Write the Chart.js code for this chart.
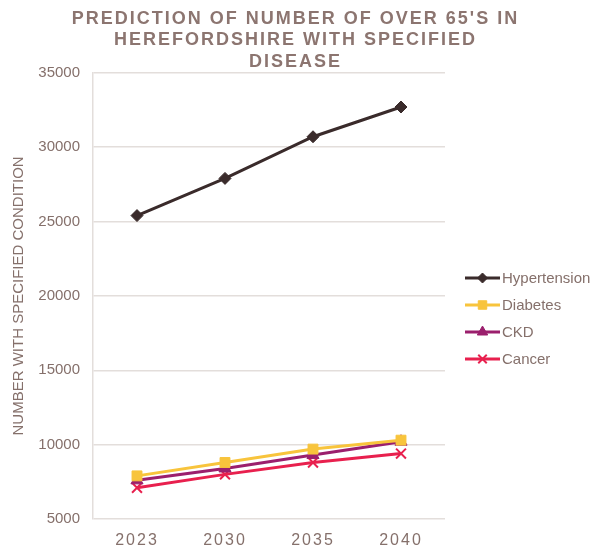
<!DOCTYPE html>
<html>
<head>
<meta charset="utf-8">
<script src="https://cdn.jsdelivr.net/npm/chart.js@4.4.1/dist/chart.umd.min.js"></script>
<style>
  html, body { margin: 0; padding: 0; background: #fff; }
  #wrap { width: 591px; height: 548px; }
</style>
</head>
<body>
<div id="wrap"><canvas id="chart" width="591" height="548"></canvas></div>
<script>
// data
var years = ['2023', '2030', '2035', '2040'];
var hypertension = [25400, 27900, 30700, 32700];
var diabetes = [7900, 8800, 9700, 10300];
var ckd = [7600, 8400, 9300, 10200];
var cancer = [7100, 8000, 8800, 9400];
var yTicks = [5000, 10000, 15000, 20000, 25000, 30000, 35000];

var textColor = '#85706b';
var titleColor = '#8c7570';
var gridColor = '#e3dedb';
var fontFamily = '"Liberation Sans", Arial, sans-serif';

function series(label, values, color, style, radius, bw) {
  return {
    label: label,
    data: values,
    borderColor: color,
    backgroundColor: color,
    pointBackgroundColor: color,
    pointBorderColor: color,
    borderWidth: 3,
    pointStyle: style,
    pointRadius: radius,
    pointHoverRadius: radius,
    pointBorderWidth: bw,
    tension: 0
  };
}

// draws a line + marker legend on the right, like the office chart does
var sideLegend = {
  id: 'sideLegend',
  afterDraw: function (chart) {
    var ctx = chart.ctx;
    ctx.save();
    chart.data.datasets.forEach(function (ds, i) {
      var y = 278 + i * 27;
      ctx.strokeStyle = ds.borderColor;
      ctx.lineWidth = 3;
      ctx.beginPath();
      ctx.moveTo(465, y);
      ctx.lineTo(500, y);
      ctx.stroke();
      ctx.fillStyle = ds.borderColor;
      ctx.lineWidth = ds.pointBorderWidth;
      Chart.helpers.drawPoint(ctx, {
        pointStyle: ds.pointStyle,
        radius: ds.pointRadius - 1,
        rotation: 0,
        borderWidth: ds.pointBorderWidth
      }, 482.5, y);
      ctx.fillStyle = textColor;
      ctx.font = '15px ' + fontFamily;
      ctx.textAlign = 'left';
      ctx.textBaseline = 'middle';
      ctx.fillText(ds.label, 502, y + 1);
    });
    ctx.restore();
  }
};

// letter spacing for title and x labels
var spacing = {
  id: 'spacing',
  beforeDraw: function (chart) {
    if (chart._spaced) return;
    chart._spaced = true;
    var tb = chart.titleBlock;
    var origTitle = tb.draw;
    tb.draw = function () {
      chart.ctx.save();
      chart.ctx.letterSpacing = '2px';
      origTitle.apply(tb, arguments);
      chart.ctx.restore();
    };
    var xs = chart.scales.x;
    var origLabels = xs.drawLabels;
    xs.drawLabels = function () {
      chart.ctx.save();
      chart.ctx.letterSpacing = '2px';
      origLabels.apply(xs, arguments);
      chart.ctx.restore();
    };
  }
};

var ctx = document.getElementById('chart').getContext('2d');
new Chart(ctx, {
  type: 'line',
  data: {
    labels: years,
    datasets: [
      series('Hypertension', hypertension, '#3a2b2b', 'rectRot', 6, 1),
      series('Diabetes', diabetes, '#f8c43c', 'rect', 7, 1),
      series('CKD', ckd, '#9b1f6d', 'triangle', 7, 1),
      series('Cancer', cancer, '#e8204e', 'crossRot', 7, 2)
    ]
  },
  options: {
    responsive: false,
    animation: false,
    layout: { padding: 0 },
    plugins: {
      legend: { display: false },
      tooltip: { enabled: false },
      title: {
        display: true,
        text: ['PREDICTION OF NUMBER OF OVER 65\'S IN', 'HEREFORDSHIRE WITH SPECIFIED', 'DISEASE'],
        color: titleColor,
        font: { family: fontFamily, size: 18, weight: 'bold', lineHeight: 1.2 },
        padding: { top: 8, bottom: 0 }
      }
    },
    scales: {
      x: {
        offset: true,
        afterFit: function (axis) { axis.height = 29; },
        grid: { display: false, drawTicks: false },
        border: { display: false },
        ticks: {
          color: textColor,
          padding: 12,
          font: { family: fontFamily, size: 16 }
        }
      },
      y: {
        min: yTicks[0],
        max: yTicks[yTicks.length - 1],
        afterFit: function (axis) { axis.width = 93; },
        afterBuildTicks: function (axis) {
          axis.ticks = yTicks.map(function (v) { return { value: v }; });
        },
        grid: { color: gridColor, lineWidth: 1.5, drawTicks: false },
        border: { color: gridColor, width: 1.5 },
        ticks: {
          color: textColor,
          padding: 13,
          font: { family: fontFamily, size: 15 },
          callback: function (v) { return String(v); }
        },
        title: {
          display: true,
          text: 'NUMBER WITH SPECIFIED CONDITION',
          color: textColor,
          padding: { top: 10, bottom: 10 },
          font: { family: fontFamily, size: 15 }
        }
      },
      // empty right-hand axis that keeps room for the legend
      side: {
        position: 'right',
        afterFit: function (axis) { axis.width = 146; },
        grid: { display: false, drawTicks: false },
        border: { display: false },
        ticks: { display: false }
      }
    }
  },
  plugins: [spacing, sideLegend]
});
</script>
</body>
</html>
